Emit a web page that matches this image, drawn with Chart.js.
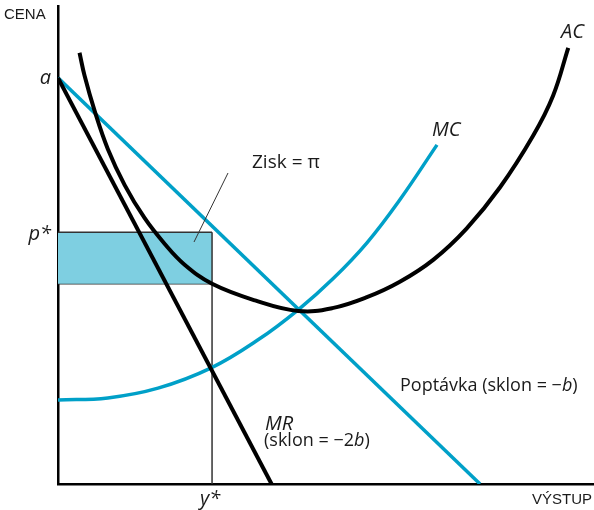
<!DOCTYPE html>
<html>
<head>
<meta charset="utf-8">
<script src="https://cdn.jsdelivr.net/npm/chart.js@4.4.0/dist/chart.umd.min.js"></script>
<style>
  html, body { margin: 0; padding: 0; background: #fff; }
  #c { display: block; }
</style>
</head>
<body>
<canvas id="c" width="594" height="510"></canvas>
<script>
// ---- data (quantity y on x-axis, price on y-axis) ----
const aIntercept = 100;      // price intercept "a"
const pStar = 62;            // monopoly price p*
const acStar = 49.3;         // average cost at y*
const yStar = 36.5;          // monopoly output y*

const demandX = [0, 100];
const demandY = [100, 0];

const mrX = [0, 50.6];
const mrY = [100, 0];

const mcX = [0, 11.8, 23.7, 36.3, 47.4, 56.9, 65.2, 73.2, 81.0, 89.8];
const mcY = [20.7, 21.2, 23.6, 28.6, 35.5, 42.9, 50.6, 59.4, 70.0, 83.5];

const acX = [5.1, 6.3, 8.7, 11.8, 15.8, 20.5, 25.3, 30.0, 36.5, 46.7, 56.9, 65.0, 73.2, 81.0, 88.9, 96.8, 104.7, 112.6, 117.3, 120.9];
const acY = [106.2, 100.5, 91.8, 82.5, 73.6, 65.5, 59.1, 54.0, 49.3, 45.2, 42.6, 43.3, 46.0, 49.8, 55.2, 62.9, 73.0, 85.8, 95.6, 107.4];

const xMax = 127;
const yMax = 117.7;

const pts = (xs, ys) => xs.map((x, i) => ({ x: x, y: ys[i] }));

const BLUE = 'rgb(0,160,200)';
const FILL = 'rgb(126,207,225)';

const labelsPlugin = {
  id: 'labels',
  afterDraw(chart) {
    const ctx = chart.ctx;
    const xs = chart.scales.x, ys = chart.scales.y;
    ctx.save();
    ctx.fillStyle = '#1a1a1a';
    ctx.textBaseline = 'middle';

    // axis titles
    ctx.font = '15px "Liberation Sans", Arial, sans-serif';
    ctx.textAlign = 'left';
    ctx.fillText('CENA', 4, 15);
    ctx.textAlign = 'right';
    ctx.fillText('VÝSTUP', 592, 500);

    // tick-like labels
    ctx.font = 'italic 20px "Open Sans", sans-serif';
    ctx.textAlign = 'right';
    ctx.fillText('a', 51, ys.getPixelForValue(aIntercept));
    ctx.fillText('p*', 51, ys.getPixelForValue(pStar) + 2);
    ctx.textAlign = 'center';
    ctx.fillText('y*', xs.getPixelForValue(yStar) - 2, 499);

    // curve labels
    ctx.font = 'italic 20px "Open Sans", sans-serif';
    ctx.textAlign = 'left';
    ctx.fillText('MC', 432, 130);
    ctx.fillText('AC', 561, 32);
    ctx.fillText('MR', 265, 424);

    // Zisk label
    ctx.font = '19px "Open Sans", sans-serif';
    ctx.fillText('Zisk = π', 252, 163);

    // rich text helper
    function rich(segs, x, y) {
      let cx = x;
      segs.forEach(s => {
        ctx.font = s[1];
        ctx.fillText(s[0], cx, y);
        cx += ctx.measureText(s[0]).width;
      });
    }
    const R = '18px "Open Sans", sans-serif';
    const I = 'italic 18px "Open Sans", sans-serif';
    rich([['Poptávka (sklon = −', R], ['b', I], [')', R]], 400, 386);
    rich([['(sklon = −2', R], ['b', I], [')', R]], 264, 441);

    // leader line for profit
    ctx.strokeStyle = '#333';
    ctx.lineWidth = 1;
    ctx.beginPath();
    ctx.moveTo(228, 173);
    ctx.lineTo(194, 242);
    ctx.stroke();
    ctx.restore();
  }
};

new Chart(document.getElementById('c'), {
  type: 'scatter',
  data: {
    datasets: [
      { label: 'MR', data: pts(mrX, mrY), showLine: true, borderColor: '#000', borderWidth: 4, pointRadius: 0, order: 1 },
      { label: 'AC', data: pts(acX, acY), showLine: true, borderColor: '#000', borderWidth: 4, pointRadius: 0, tension: 0.4, order: 2 },
      { label: 'Demand', data: pts(demandX, demandY), showLine: true, borderColor: BLUE, borderWidth: 3.5, pointRadius: 0, order: 3 },
      { label: 'MC', data: pts(mcX, mcY), showLine: true, borderColor: BLUE, borderWidth: 3.5, pointRadius: 0, tension: 0.4, order: 4 },
      { label: 'yStarLine', data: [{ x: yStar, y: 0 }, { x: yStar, y: pStar }], showLine: true, borderColor: '#333', borderWidth: 1.5, pointRadius: 0, order: 5 },
      { label: 'profitTop', data: [{ x: 0, y: pStar }, { x: yStar, y: pStar }], showLine: true, borderColor: '#333', borderWidth: 1.5, pointRadius: 0, fill: '+1', backgroundColor: FILL, order: 6 },
      { label: 'profitBottom', data: [{ x: 0, y: acStar }, { x: yStar, y: acStar }], showLine: true, borderColor: '#333', borderWidth: 1.5, pointRadius: 0, order: 7 }
    ]
  },
  options: {
    responsive: false,
    animation: false,
    devicePixelRatio: 1,
    layout: { padding: { left: 58, right: 0, top: 6, bottom: 26 } },
    plugins: { legend: { display: false }, tooltip: { enabled: false } },
    scales: {
      x: {
        type: 'linear', min: 0, max: xMax,
        grid: { display: false, drawTicks: false },
        ticks: { display: false },
        border: { display: true, color: '#000', width: 2.5 }
      },
      y: {
        type: 'linear', min: 0, max: yMax,
        grid: { display: false, drawTicks: false },
        ticks: { display: false },
        border: { display: true, color: '#000', width: 2.5 }
      }
    }
  },
  plugins: [labelsPlugin]
});
</script>
</body>
</html>
